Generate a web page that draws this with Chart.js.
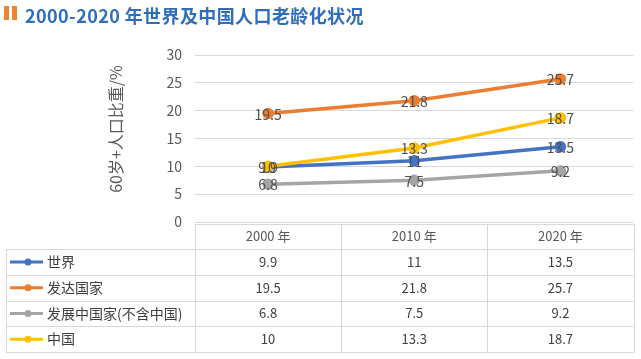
<!DOCTYPE html>
<html lang="zh">
  <head>
    <meta charset="UTF-8" />
    <title>2000-2020 年世界及中国人口老龄化状况</title>
    <script src="https://cdn.jsdelivr.net/npm/chart.js"></script>
    <style>
      body { margin: 0; background: #fff; }
      .wrap { position: relative; width: 641px; height: 359px; }
      .bar { position: absolute; top: 6px; width: 5px; height: 14px; background: #f0852d; }
      .title {
        position: absolute; left: 25px; top: 2px;
        font: bold 18px "Noto Sans CJK SC", sans-serif; line-height: 26px;
        letter-spacing: 0.4px; color: #2f6eba; white-space: nowrap;
      }
      canvas { position: absolute; left: 0; top: 0; }
    </style>
  </head>
  <body>
    <div class="wrap">
      <canvas id="chart" width="641" height="359"></canvas>
      <div class="bar" style="left:4px"></div>
      <div class="bar" style="left:12px"></div>
      <div class="title">2000-2020 年世界及中国人口老龄化状况</div>
    </div>
    <script>
      const years = ["2000 年", "2010 年", "2020 年"];
      const seriesNames = ["世界", "发达国家", "发展中国家(不含中国)", "中国"];
      const world = [9.9, 11, 13.5];
      const developed = [19.5, 21.8, 25.7];
      const developing = [6.8, 7.5, 9.2];
      const china = [10, 13.3, 18.7];
      const yTicks = [0, 5, 10, 15, 20, 25, 30];
      const yTitle = "60岁+人口比重/%";

      const colors = ["#4472c4", "#ed7d31", "#a5a5a5", "#ffc000"];
      const allValues = [world, developed, developing, china];
      const textColor = "#595959";
      const gridColor = "#d9d9d9";
      const cjk = '"Noto Sans CJK SC", sans-serif';

      // 点上的数值标签 + 纵轴标题
      const valueLabels = {
        id: "valueLabels",
        afterDatasetsDraw(chart) {
          const ctx = chart.ctx;
          ctx.save();
          ctx.font = "14px " + cjk;
          ctx.fillStyle = "#505050";
          ctx.textAlign = "center";
          ctx.textBaseline = "middle";
          chart.data.datasets.forEach((ds, i) => {
            chart.getDatasetMeta(i).data.forEach((pt, j) => {
              ctx.fillText(String(ds.data[j]), pt.x, pt.y + 1);
            });
          });
          ctx.translate(116, 129);
          ctx.rotate(-Math.PI / 2);
          ctx.font = "16px " + cjk;
          ctx.fillStyle = textColor;
          ctx.fillText(yTitle, 0, 0);
          ctx.restore();
        },
      };

      // 图表下方的数据表
      const dataTable = {
        id: "dataTable",
        afterDraw(chart) {
          const ctx = chart.ctx;
          const xs = chart.scales.x;
          const left = xs.left, right = xs.right;
          const tableLeft = 6, headerTop = 224, headerH = 25, rowH = 25.75;
          const bodyTop = headerTop + headerH;
          const bottom = bodyTop + rowH * seriesNames.length;
          const centers = years.map((_, i) => xs.getPixelForValue(i));
          const bounds = [left];
          for (let i = 1; i < centers.length; i++) bounds.push((centers[i - 1] + centers[i]) / 2);
          bounds.push(right);

          ctx.save();
          ctx.strokeStyle = gridColor;
          ctx.lineWidth = 1;
          ctx.beginPath();
          ctx.moveTo(left, headerTop + 0.5);
          ctx.lineTo(right, headerTop + 0.5);
          for (let r = 0; r <= seriesNames.length; r++) {
            const y = Math.round(bodyTop + r * rowH) + 0.5;
            ctx.moveTo(tableLeft, y);
            ctx.lineTo(right, y);
          }
          ctx.moveTo(tableLeft + 0.5, bodyTop);
          ctx.lineTo(tableLeft + 0.5, bottom);
          bounds.forEach((b) => {
            const x = Math.round(b) + 0.5;
            ctx.moveTo(x, headerTop);
            ctx.lineTo(x, bottom + 1);
          });
          ctx.stroke();

          ctx.textAlign = "center";
          ctx.textBaseline = "middle";
          ctx.font = "13px " + cjk;
          ctx.fillStyle = textColor;
          years.forEach((y, i) => ctx.fillText(y, centers[i], headerTop + headerH / 2));

          ctx.fillStyle = "#404040";
          allValues.forEach((vals, r) => {
            const cy = bodyTop + r * rowH + rowH / 2;
            vals.forEach((v, i) => ctx.fillText(String(v), centers[i], cy));
          });

          ctx.textAlign = "left";
          ctx.font = "14px " + cjk;
          seriesNames.forEach((name, r) => {
            const cy = bodyTop + r * rowH + rowH / 2;
            ctx.strokeStyle = colors[r];
            ctx.lineWidth = 3;
            ctx.beginPath();
            ctx.moveTo(10, cy);
            ctx.lineTo(43, cy);
            ctx.stroke();
            ctx.fillStyle = colors[r];
            ctx.beginPath();
            ctx.arc(28, cy, 3.5, 0, Math.PI * 2);
            ctx.fill();
            ctx.fillStyle = "#404040";
            ctx.fillText(name, 47, cy);
          });
          ctx.restore();
        },
      };

      new Chart(document.getElementById("chart"), {
        type: "line",
        data: {
          labels: years,
          datasets: seriesNames.map((name, i) => ({
            label: name,
            data: allValues[i],
            borderColor: colors[i],
            backgroundColor: colors[i],
            borderWidth: 3.5,
            pointRadius: 4,
            pointHoverRadius: 4,
            tension: 0,
            order: seriesNames.length - i,
          })),
        },
        options: {
          responsive: false,
          animation: false,
          layout: { padding: { top: 55, right: 3, bottom: 137, left: 0 } },
          scales: {
            x: { type: "category", offset: true, display: false },
            y: {
              min: 0,
              max: 30,
              afterBuildTicks(scale) {
                scale.ticks = yTicks.map((v) => ({ value: v }));
              },
              afterFit(scale) {
                scale.width = 195;
              },
              grid: { color: gridColor, drawTicks: false },
              border: { display: false },
              ticks: {
                padding: 13,
                color: textColor,
                font: { size: 14, family: cjk },
              },
            },
          },
          plugins: {
            legend: { display: false },
            tooltip: { enabled: false },
          },
        },
        plugins: [valueLabels, dataTable],
      });
    </script>
  </body>
</html>
